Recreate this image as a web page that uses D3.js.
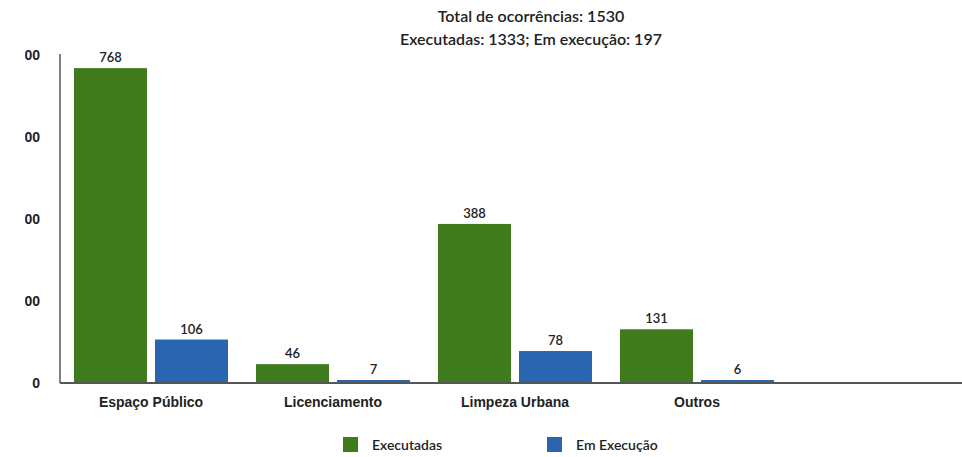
<!DOCTYPE html>
<html>
<head>
<meta charset="utf-8">
<script src="https://cdn.jsdelivr.net/npm/d3@7"></script>
<style>
body { margin:0; background:#fff; }
svg { font-family: Lato, "Noto Sans", sans-serif; }
</style>
</head>
<body>
<div id="chart"></div>
<script>
var categories = ["Espaço Público", "Licenciamento", "Limpeza Urbana", "Outros"];
var seriesNames = ["Executadas", "Em Execução"];
var executadas = [768, 46, 388, 131];
var emExecucao = [106, 7, 78, 6];
var yTicks = [0, 200, 400, 600, 800];
var titleLines = ["Total de ocorrências: 1530", "Executadas: 1333; Em execução: 197"];
var colors = ["#3f7a1d", "#2a66b0"];

var width = 962, height = 457;
var svg = d3.select("#chart").append("svg").attr("width", width).attr("height", height);

var rows = categories.map(function(c, i){ return { cat: c, values: [executadas[i], emExecucao[i]] }; });

var x0 = d3.scaleBand().domain(categories).range([60, 788]).paddingInner(0.154).paddingOuter(0.077);
var x1 = d3.scaleBand().domain(seriesNames).range([0, x0.bandwidth()]).paddingInner(0.099).paddingOuter(0);
var y = d3.scaleLinear().domain([0, 800]).range([383, 55]);

// title
svg.selectAll("text.title").data(titleLines).enter().append("text")
	.attr("class", "title")
	.attr("x", 531).attr("y", function(d, i){ return 22 + i*23; })
	.attr("text-anchor", "middle")
	.style("font-size", "16px").style("font-weight", 600).style("fill", "#222")
	.text(function(d){ return d; });

// y axis (tick labels clipped on the left like the original)
svg.append("clipPath").attr("id", "yclip").append("rect")
	.attr("x", -35).attr("y", -500).attr("width", 60).attr("height", 1000);

var yAxis = svg.append("g")
	.attr("transform", "translate(60,0)")
	.call(d3.axisLeft(y).tickValues(yTicks).tickSize(0).tickPadding(20).tickFormat(d3.format("d")));
yAxis.select(".domain").remove();
yAxis.append("line")
	.attr("x1", 0).attr("x2", 0)
	.attr("y1", y(800) - 1).attr("y2", y(0))
	.attr("stroke", "#555").attr("stroke-width", 1.5);
yAxis.selectAll(".tick").attr("clip-path", "url(#yclip)");
yAxis.selectAll("text").style("font-size", "14px").style("font-weight", 600).style("fill", "#222").attr("dy", "0.35em");

// bars
var groups = svg.selectAll("g.grp").data(rows).enter().append("g")
	.attr("class", "grp")
	.attr("transform", function(d){ return "translate(" + x0(d.cat) + ",0)"; });

groups.selectAll("rect").data(function(d){ return d.values.map(function(v, i){ return { name: seriesNames[i], v: v, i: i }; }); })
	.enter().append("rect")
	.attr("x", function(d){ return x1(d.name); })
	.attr("y", function(d){ return Math.min(y(d.v), y(0) - 3); })
	.attr("width", x1.bandwidth())
	.attr("height", function(d){ return Math.max(y(0) - y(d.v), 3); })
	.attr("fill", function(d){ return colors[d.i]; });

groups.selectAll("text.val").data(function(d){ return d.values.map(function(v, i){ return { name: seriesNames[i], v: v }; }); })
	.enter().append("text")
	.attr("class", "val")
	.attr("x", function(d){ return x1(d.name) + x1.bandwidth()/2; })
	.attr("y", function(d){ return Math.min(y(d.v), y(0) - 3) - 6; })
	.attr("text-anchor", "middle")
	.style("font-size", "13px").style("font-weight", 600).style("fill", "#222")
	.text(function(d){ return d.v; });

// x axis
var xAxis = svg.append("g")
	.attr("transform", "translate(0," + y(0) + ")")
	.call(d3.axisBottom(x0).tickSize(0).tickPadding(14));
xAxis.select(".domain").attr("stroke", "#555").attr("stroke-width", 2).attr("d", "M60,0H" + width);
xAxis.selectAll("text").style("font-size", "14px").style("font-weight", 600).style("fill", "#222");

// legend
var legendX = [343, 547];
var legend = svg.selectAll("g.leg").data(seriesNames).enter().append("g")
	.attr("class", "leg")
	.attr("transform", function(d, i){ return "translate(" + legendX[i] + ",437)"; });
legend.append("rect").attr("width", 15).attr("height", 15).attr("fill", function(d, i){ return colors[i]; });
legend.append("text").attr("x", 29).attr("y", 8).attr("dy", "0.35em")
	.style("font-size", "14px").style("font-weight", 600).style("fill", "#222")
	.text(function(d){ return d; });
</script>
</body>
</html>
